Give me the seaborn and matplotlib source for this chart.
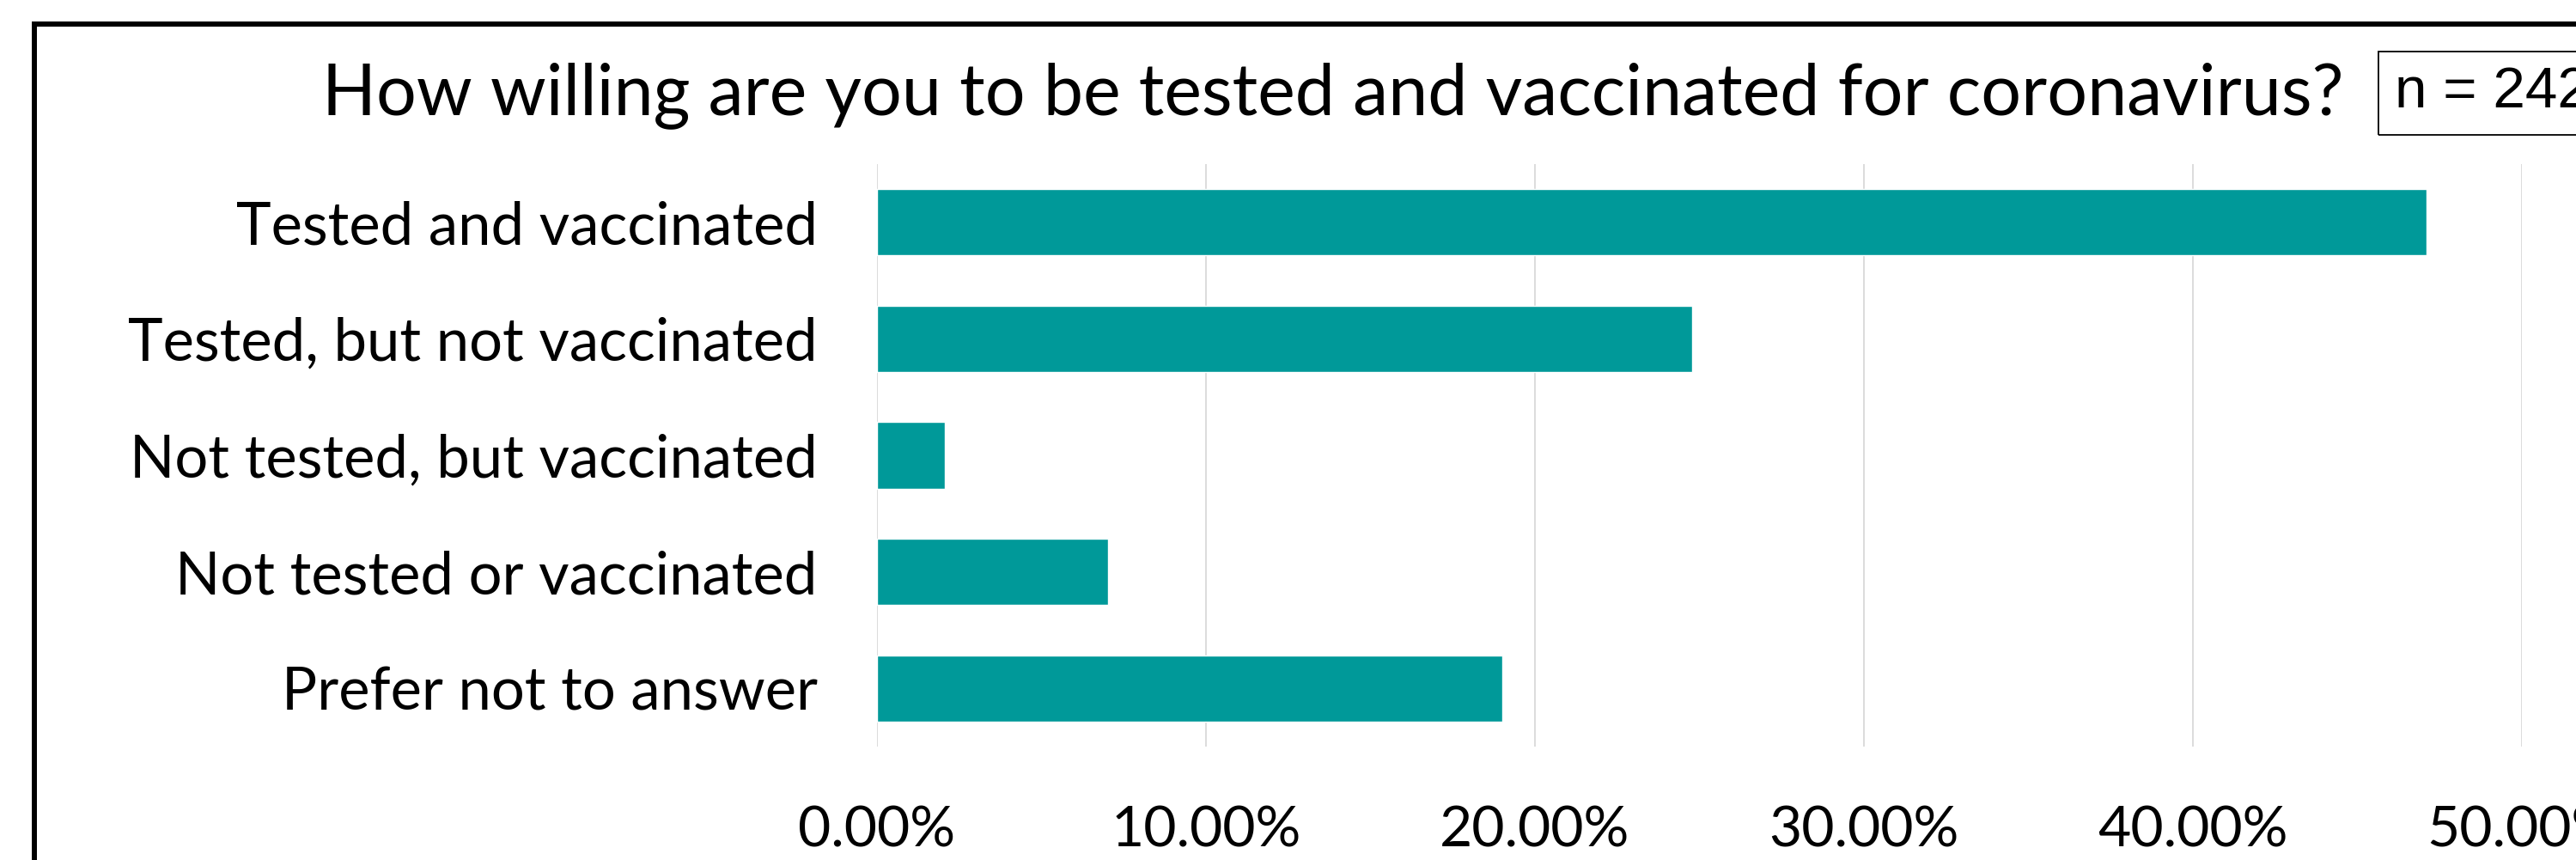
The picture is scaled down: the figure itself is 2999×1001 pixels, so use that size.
import seaborn as sns
import matplotlib.pyplot as plt
import pandas as pd
from matplotlib.patches import Rectangle
from matplotlib.ticker import PercentFormatter

sns.set_theme(style="white")
plt.rcParams['font.family'] = ['Lato', 'DejaVu Sans']
plt.rcParams['text.color'] = 'black'
plt.rcParams['xtick.color'] = 'black'
plt.rcParams['ytick.color'] = 'black'

categories = ['Tested and vaccinated', 'Tested, but not vaccinated',
              'Not tested, but vaccinated', 'Not tested or vaccinated',
              'Prefer not to answer']
shares = [0.4711, 0.2479, 0.0207, 0.0702, 0.1901]
title = 'How willing are you to be tested and vaccinated for coronavirus?'
n_label = 'n = 242'

df = pd.DataFrame({'answer': categories, 'share': shares})

W, H = 2999, 1001
fig = plt.figure(figsize=(W / 100, H / 100), dpi=100)
fig.patch.set_facecolor('white')

# plot area, in pixel terms of the reference
x0, x1, y0, y1 = 1021, 2936, 191, 869
ax = fig.add_axes([x0 / W, 1 - y1 / H, (x1 - x0) / W, (y1 - y0) / H])

sns.barplot(data=df, x='share', y='answer', orient='h', color='#009999',
            width=0.57, saturation=1, ax=ax)

ax.set_xlim(0, 0.5)
ax.set_xticks([0, 0.1, 0.2, 0.3, 0.4, 0.5])
ax.xaxis.set_major_formatter(PercentFormatter(xmax=1, decimals=2))
ax.set_xlabel('')
ax.set_ylabel('')
ax.set_axisbelow(True)
ax.xaxis.grid(True, color='#d9d9d9', linewidth=1.3)
for s in ax.spines.values():
    s.set_visible(False)
ax.tick_params(axis='y', length=0, pad=50, labelsize=49.5)
ax.tick_params(axis='x', length=0, pad=49, labelsize=47.5)

fig.text(1552 / W, 1 - 133 / H, title, ha='center', va='baseline',
         fontsize=59.5, color='black')

# outer chart frame (cropped at right and bottom)
fig.patches.append(Rectangle((40 / W, -0.1), 1.2, 1 - 28 / H + 0.1,
                             transform=fig.transFigure, fill=False,
                             edgecolor='black', linewidth=4.3))
# n box
fig.patches.append(Rectangle((2769 / W, 1 - 157 / H), 0.2, 97 / H,
                             transform=fig.transFigure, fill=False,
                             edgecolor='black', linewidth=1.3))
fig.text(2788 / W, 1 - 108 / H, n_label, ha='left', va='center',
         fontsize=48.5, family=['Liberation Sans', 'DejaVu Sans'])

fig.savefig('out.png', dpi=100, facecolor='white')
